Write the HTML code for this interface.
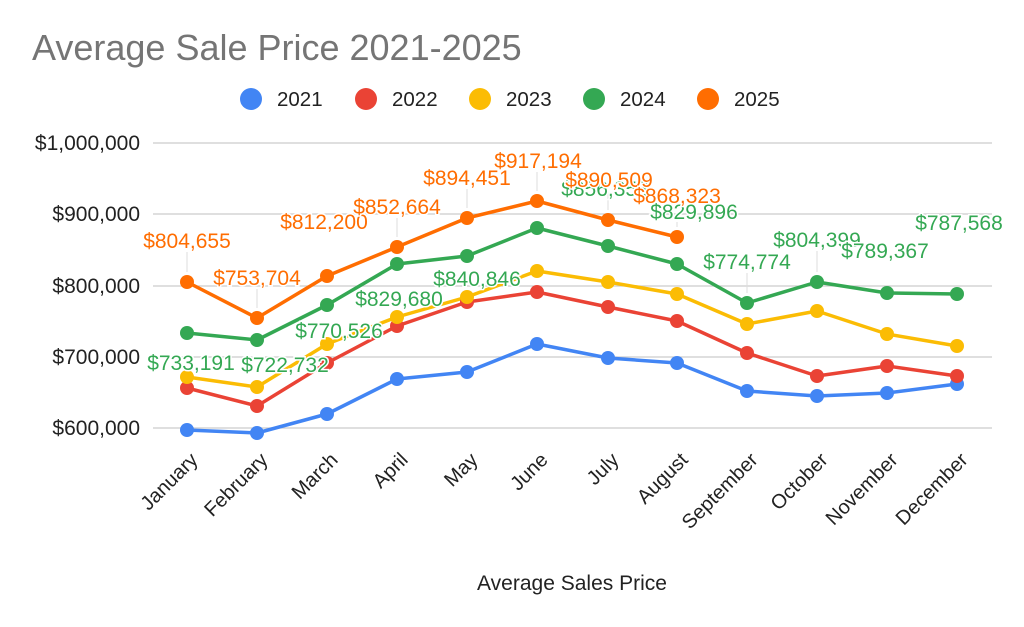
<!DOCTYPE html>
<html><head><meta charset="utf-8"><style>
html,body{margin:0;padding:0;background:#fff;}
svg{display:block;font-family:"Liberation Sans",Arial,sans-serif;}
.lbl{font-size:21px;text-anchor:middle;stroke:#fff;stroke-width:3px;paint-order:stroke;}
.o{fill:#ff6d01}.g{fill:#34a853}
.yt{font-size:21px;fill:#222;text-anchor:end}
.xt{font-size:20px;fill:#222;text-anchor:end}
</style></head><body>
<svg width="1024" height="627" viewBox="0 0 1024 627">
<text x="32" y="60" font-size="36" fill="#757575">Average Sale Price 2021-2025</text>
<g font-size="20.5" fill="#222">
<circle cx="251" cy="99" r="11" fill="#4285f4"/><text x="277" y="106">2021</text>
<circle cx="366" cy="99" r="11" fill="#ea4335"/><text x="392" y="106">2022</text>
<circle cx="480" cy="99" r="11" fill="#fbbc04"/><text x="506" y="106">2023</text>
<circle cx="594" cy="99" r="11" fill="#34a853"/><text x="620" y="106">2024</text>
<circle cx="708" cy="99" r="11" fill="#ff6d01"/><text x="734" y="106">2025</text>
</g>
<g stroke="#ccc" stroke-width="1.3">
<line x1="153" x2="992" y1="143" y2="143"/><line x1="153" x2="992" y1="214" y2="214"/>
<line x1="153" x2="992" y1="286" y2="286"/><line x1="153" x2="992" y1="357" y2="357"/>
<line x1="153" x2="992" y1="428" y2="428"/>
</g>
<text class="yt" x="140" y="150">$1,000,000</text>
<text class="yt" x="140" y="221">$900,000</text>
<text class="yt" x="140" y="293">$800,000</text>
<text class="yt" x="140" y="364">$700,000</text>
<text class="yt" x="140" y="435">$600,000</text>
<g stroke="#ddd" stroke-width="1">
<line x1="187" x2="187" y1="252" y2="272"/><line x1="257" x2="257" y1="289" y2="308"/>
<line x1="397" x2="397" y1="218" y2="237"/><line x1="467" x2="467" y1="189" y2="208"/>
<line x1="537" x2="537" y1="172" y2="191"/><line x1="608" x2="608" y1="191" y2="210"/>
<line x1="677" x2="677" y1="222" y2="227"/><line x1="747" x2="747" y1="273" y2="293"/>
<line x1="817" x2="817" y1="251" y2="272"/>
</g>
<g fill="none" stroke-width="3.5" stroke-linejoin="round">
<polyline stroke="#4285f4" points="187,430 257,433 327,414 397,379 467,372 537,344 608,358 677,363 747,391 817,396 887,393 957,384"/>
<polyline stroke="#ea4335" points="187,388 257,406 327,363 397,326 467,302 537,292 608,307 677,321 747,353 817,376 887,366 957,376"/>
<polyline stroke="#fbbc04" points="187,377 257,387 327,344 397,317 467,297 537,271 608,282 677,294 747,324 817,311 887,334 957,346"/>
<polyline stroke="#34a853" points="187,333 257,340 327,305 397,264 467,256 537,228 608,246 677,264 747,303 817,282 887,293 957,294"/>
<polyline stroke="#ff6d01" points="187,282 257,318 327,276 397,247 467,218 537,201 608,220 677,237"/>
</g>
<g fill="#4285f4"><circle cx="187" cy="430" r="7"/><circle cx="257" cy="433" r="7"/><circle cx="327" cy="414" r="7"/><circle cx="397" cy="379" r="7"/><circle cx="467" cy="372" r="7"/><circle cx="537" cy="344" r="7"/><circle cx="608" cy="358" r="7"/><circle cx="677" cy="363" r="7"/><circle cx="747" cy="391" r="7"/><circle cx="817" cy="396" r="7"/><circle cx="887" cy="393" r="7"/><circle cx="957" cy="384" r="7"/></g>
<g fill="#ea4335"><circle cx="187" cy="388" r="7"/><circle cx="257" cy="406" r="7"/><circle cx="327" cy="363" r="7"/><circle cx="397" cy="326" r="7"/><circle cx="467" cy="302" r="7"/><circle cx="537" cy="292" r="7"/><circle cx="608" cy="307" r="7"/><circle cx="677" cy="321" r="7"/><circle cx="747" cy="353" r="7"/><circle cx="817" cy="376" r="7"/><circle cx="887" cy="366" r="7"/><circle cx="957" cy="376" r="7"/></g>
<g fill="#fbbc04"><circle cx="187" cy="377" r="7"/><circle cx="257" cy="387" r="7"/><circle cx="327" cy="344" r="7"/><circle cx="397" cy="317" r="7"/><circle cx="467" cy="297" r="7"/><circle cx="537" cy="271" r="7"/><circle cx="608" cy="282" r="7"/><circle cx="677" cy="294" r="7"/><circle cx="747" cy="324" r="7"/><circle cx="817" cy="311" r="7"/><circle cx="887" cy="334" r="7"/><circle cx="957" cy="346" r="7"/></g>
<g fill="#34a853"><circle cx="187" cy="333" r="7"/><circle cx="257" cy="340" r="7"/><circle cx="327" cy="305" r="7"/><circle cx="397" cy="264" r="7"/><circle cx="467" cy="256" r="7"/><circle cx="537" cy="228" r="7"/><circle cx="608" cy="246" r="7"/><circle cx="677" cy="264" r="7"/><circle cx="747" cy="303" r="7"/><circle cx="817" cy="282" r="7"/><circle cx="887" cy="293" r="7"/><circle cx="957" cy="294" r="7"/></g>
<g fill="#ff6d01"><circle cx="187" cy="282" r="7"/><circle cx="257" cy="318" r="7"/><circle cx="327" cy="276" r="7"/><circle cx="397" cy="247" r="7"/><circle cx="467" cy="218" r="7"/><circle cx="537" cy="201" r="7"/><circle cx="608" cy="220" r="7"/><circle cx="677" cy="237" r="7"/></g>
<text class="lbl g" x="191" y="370">$733,191</text>
<text class="lbl g" x="285" y="372">$722,732</text>
<text class="lbl g" x="339" y="338">$770,526</text>
<text class="lbl g" x="399" y="306">$829,680</text>
<text class="lbl g" x="477" y="286">$840,846</text>
<text class="lbl g" x="605" y="196">$856,353</text>
<text class="lbl g" x="694" y="219">$829,896</text>
<text class="lbl g" x="747" y="269">$774,774</text>
<text class="lbl g" x="817" y="247">$804,399</text>
<text class="lbl g" x="885" y="258">$789,367</text>
<text class="lbl g" x="959" y="230">$787,568</text>
<text class="lbl o" x="187" y="248">$804,655</text>
<text class="lbl o" x="257" y="285">$753,704</text>
<text class="lbl o" x="324" y="229">$812,200</text>
<text class="lbl o" x="397" y="214">$852,664</text>
<text class="lbl o" x="467" y="185">$894,451</text>
<text class="lbl o" x="538" y="168">$917,194</text>
<text class="lbl o" x="609" y="187">$890,509</text>
<text class="lbl o" x="677" y="203">$868,323</text>
<g>
<text class="xt" transform="translate(199,461) rotate(-45)">January</text>
<text class="xt" transform="translate(269,461) rotate(-45)">February</text>
<text class="xt" transform="translate(339,461) rotate(-45)">March</text>
<text class="xt" transform="translate(409,461) rotate(-45)">April</text>
<text class="xt" transform="translate(479,461) rotate(-45)">May</text>
<text class="xt" transform="translate(549,461) rotate(-45)">June</text>
<text class="xt" transform="translate(620,461) rotate(-45)">July</text>
<text class="xt" transform="translate(689,461) rotate(-45)">August</text>
<text class="xt" transform="translate(759,461) rotate(-45)">September</text>
<text class="xt" transform="translate(829,461) rotate(-45)">October</text>
<text class="xt" transform="translate(899,461) rotate(-45)">November</text>
<text class="xt" transform="translate(969,461) rotate(-45)">December</text>
</g>
<text x="572" y="590" font-size="21" fill="#222" text-anchor="middle">Average Sales Price</text>
</svg>
</body></html>
